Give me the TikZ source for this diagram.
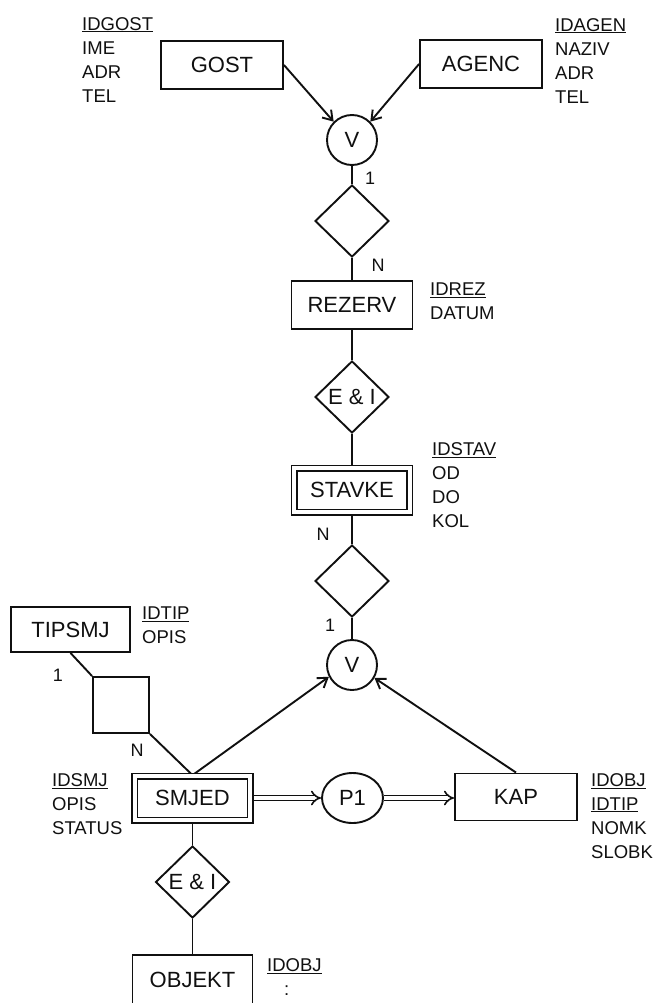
\documentclass[tikz,border=0pt]{standalone}
\usepackage{fontspec}
\setmainfont{Liberation Sans}
\usepackage{tikz}
\usetikzlibrary{arrows.meta,positioning,calc,shapes.geometric,backgrounds}
\definecolor{Ink}{HTML}{101010}
\newcommand{\keyattr}[1]{\underline{#1}}
\tikzset{
  entity/.style={draw=Ink,line width=1.9pt,fill=white,minimum width=122pt,minimum height=48pt,inner sep=0pt,text=Ink,font=\fontsize{22}{26}\selectfont},
  weakentity/.style={entity,line width=1.7pt,double=white,double distance=3.6pt,minimum width=115.5pt,minimum height=44pt},
  relship/.style={draw=Ink,line width=1.9pt,fill=white,diamond,shape aspect=1,minimum width=74pt,minimum height=72pt,inner sep=0pt,text=Ink,font=\fontsize{22}{26}\selectfont},
  relbox/.style={draw=Ink,line width=1.9pt,fill=white,minimum size=56pt,inner sep=0pt},
  junction/.style={draw=Ink,line width=1.9pt,fill=white,circle,minimum size=50pt,inner sep=0pt,text=Ink,font=\fontsize{22}{26}\selectfont},
  attrs/.style={anchor=north west,align=left,inner sep=0pt,text=Ink,font=\fontsize{18.5}{24}\selectfont},
  card/.style={inner sep=0pt,text=Ink,font=\fontsize{18}{20}\selectfont},
  link/.style={draw=Ink,line width=1.9pt},
  arrow/.style={link,-{Straight Barb[length=9pt,width=12pt]}},
  dblArrow/.style={draw=Ink,line width=1.6pt,double=white,double distance=3.4pt,-{Implies}}
}
\begin{document}
\begin{tikzpicture}[x=1pt,y=-1pt]
\useasboundingbox (0,0) rectangle (654,1003);
\clip (0,0) rectangle (654,1003);
% entities
\node[entity] (gost) at (222,65) {GOST};
\node[entity] (agenc) at (481,64) {AGENC};
\node[entity,minimum width=121pt] (rezerv) at (352,305) {REZERV};
\node[weakentity] (stavke) at (352,490) {STAVKE};
\node[entity,minimum width=119pt,minimum height=45pt] (tipsmj) at (70.5,629.5) {TIPSMJ};
\node[weakentity] (smjed) at (192.5,798) {SMJED};
\node[entity,minimum height=47pt] (kap) at (516,797) {KAP};
\node[entity,minimum width=120pt,minimum height=50pt] (objekt) at (192.5,980) {OBJEKT};
% relationships and junctions
\node[junction] (v1) at (352,140) {V};
\node[relship] (rel1) at (352,221) {};
\node[relship] (ei1) at (352,397) {E \& I};
\node[relship] (rel2) at (352,581) {};
\node[junction] (v2) at (352,665) {V};
\node[relbox] (sq) at (121,705) {};
\node[junction,ellipse,minimum width=61pt,minimum height=50pt] (p1) at (352.5,798) {P1};
\node[relship] (ei2) at (192.5,882) {E \& I};
% connectors
\begin{scope}[on background layer]
  \draw[arrow] (gost.east) -- (v1.north west);
  \draw[arrow] (agenc.west) -- (v1.north east);
  \draw[link] (v1) -- (rel1) -- (rezerv) -- (ei1) -- (stavke) -- (rel2) -- (v2);
  \draw[link] (tipsmj.south) -- (sq.north west);
  \draw[link] (sq.south east) -- (smjed.north);
  \draw[arrow] (smjed.north) -- (v2.207);
  \draw[arrow] (kap.north) -- (v2.330);
  \draw[dblArrow] (smjed.east) -- (p1.west);
  \draw[dblArrow] (p1.east) -- (p1.east -| kap.west);
  \draw[link] (smjed) -- (ei2) -- (objekt);
\end{scope}
% cardinalities
\node[card] (c1) at (370,178) {1};
\node[card] (cn1) at (378,265) {N};
\node[card] (cn2) at (323,534) {N};
\node[card] (c2) at (330,625) {1};
\node[card] (c3) at (58,675) {1};
\node[card] (cn3) at (137,750) {N};
% attributes
\node[attrs] (gostattr) at (82,17) {\keyattr{IDGOST}\\IME\\ADR\\TEL};
\node[attrs] (agencattr) at (555,18) {\keyattr{IDAGEN}\\NAZIV\\ADR\\TEL};
\node[attrs] (rezervattr) at (430,283) {\keyattr{IDREZ}\\DATUM};
\node[attrs] (stavkeattr) at (432,442) {\keyattr{IDSTAV}\\OD\\DO\\KOL};
\node[attrs] (tipsmjattr) at (142,607) {\keyattr{IDTIP}\\OPIS};
\node[attrs] (smjedattr) at (52,773) {\keyattr{IDSMJ}\\OPIS\\STATUS};
\node[attrs] (kapattr) at (591,773) {\keyattr{IDOBJ}\\\keyattr{IDTIP}\\NOMK\\SLOBK};
\node[attrs] (objektattr) at (267,958) {\keyattr{IDOBJ}\\\hspace*{17pt}:};
\end{tikzpicture}
\end{document}
